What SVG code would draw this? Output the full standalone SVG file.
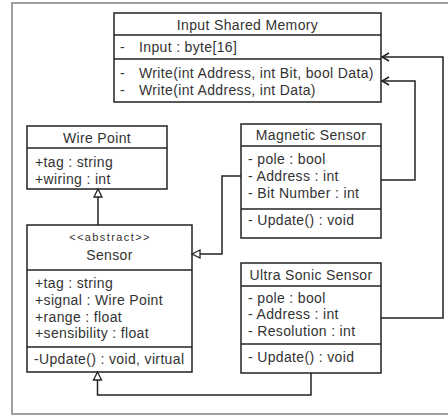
<svg xmlns="http://www.w3.org/2000/svg" width="448" height="416" viewBox="0 0 448 416">
<style>
.frame{fill:none;stroke:#a0a0a0;stroke-width:2}
.box{fill:#fff;stroke:#222;stroke-width:1.5}
.div{stroke:#222;stroke-width:1.5}
.t{font-family:"Liberation Sans",Arial,sans-serif;font-size:14px;letter-spacing:0.35px;fill:#333}
.c{text-anchor:middle}
.s{font-size:11px;letter-spacing:1.4px}
.con{fill:none;stroke:#222;stroke-width:1.5}
.tri{fill:#fff;stroke:#222;stroke-width:1.3}
</style>
<rect width="448" height="416" fill="#fff"/>
<rect class="frame" x="12" y="3" width="440" height="411"/>

<g id="input-shared-memory">
<rect class="box" x="114" y="13" width="267" height="89"/>
<line class="div" x1="114" y1="35" x2="381" y2="35"/>
<line class="div" x1="114" y1="59" x2="381" y2="59"/>
<text class="t c" x="247.5" y="30">Input Shared Memory</text>
<text class="t" x="120" y="52">-<tspan x="139">Input : byte[16]</tspan></text>
<text class="t"><tspan x="120" y="78">-</tspan><tspan x="139">Write(int Address, int Bit, bool Data)</tspan><tspan x="120" y="95">-</tspan><tspan x="139">Write(int Address, int Data)</tspan></text>
</g>

<g id="wire-point">
<rect class="box" x="27" y="126" width="140" height="63"/>
<line class="div" x1="27" y1="148" x2="167" y2="148"/>
<text class="t c" x="97" y="143">Wire Point</text>
<text class="t"><tspan x="35" y="167">+tag : string</tspan><tspan x="35" y="184">+wiring : int</tspan></text>
</g>

<g id="sensor">
<rect class="box" x="27" y="225" width="165" height="147"/>
<line class="div" x1="27" y1="270" x2="192" y2="270"/>
<line class="div" x1="27" y1="347" x2="192" y2="347"/>
<text class="t c"><tspan class="s" x="110" y="241">&lt;&lt;abstract&gt;&gt;</tspan><tspan x="109.5" y="260">Sensor</tspan></text>
<text class="t"><tspan x="35" y="288">+tag : string</tspan><tspan x="35" y="305">+signal : Wire Point</tspan><tspan x="35" y="322">+range : float</tspan><tspan x="35" y="338">+sensibility : float</tspan></text>
<text class="t" x="34" y="364">-Update() : void, virtual</text>
</g>

<g id="magnetic-sensor">
<rect class="box" x="241" y="124" width="140" height="114"/>
<line class="div" x1="241" y1="146" x2="381" y2="146"/>
<line class="div" x1="241" y1="209" x2="381" y2="209"/>
<text class="t c" x="311" y="140">Magnetic Sensor</text>
<text class="t"><tspan x="248" y="164">- pole : bool</tspan><tspan x="248" y="181">- Address : int</tspan><tspan x="248" y="198">- Bit Number : int</tspan></text>
<text class="t" x="248" y="225">- Update() : void</text>
</g>

<g id="ultra-sonic-sensor">
<rect class="box" x="241" y="263" width="140" height="110"/>
<line class="div" x1="241" y1="286" x2="381" y2="286"/>
<line class="div" x1="241" y1="344" x2="381" y2="344"/>
<text class="t c" x="311" y="280">Ultra Sonic Sensor</text>
<text class="t"><tspan x="248" y="303">- pole : bool</tspan><tspan x="248" y="319">- Address : int</tspan><tspan x="248" y="336">- Resolution : int</tspan></text>
<text class="t" x="248" y="362">- Update() : void</text>
</g>

<g id="connectors">
<polyline class="con" points="98,225 98,197"/>
<polygon class="tri" points="98,189 102,197 94,197"/>
<polyline class="con" points="241,176 222,176 222,254 200,254"/>
<polygon class="tri" points="192,254 200,250 200,258"/>
<polyline class="con" points="311,373 311,395 97.5,395 97.5,380"/>
<polygon class="tri" points="97.5,372 101.5,380 93.5,380"/>
<polyline class="con" points="381,180 415,180 415,81 382,81"/>
<polyline class="con" points="389,77 382,81 389,85"/>
<polyline class="con" points="381,318 443,318 443,57 382,57"/>
<polyline class="con" points="389,53 382,57 389,61"/>
</g>
</svg>
